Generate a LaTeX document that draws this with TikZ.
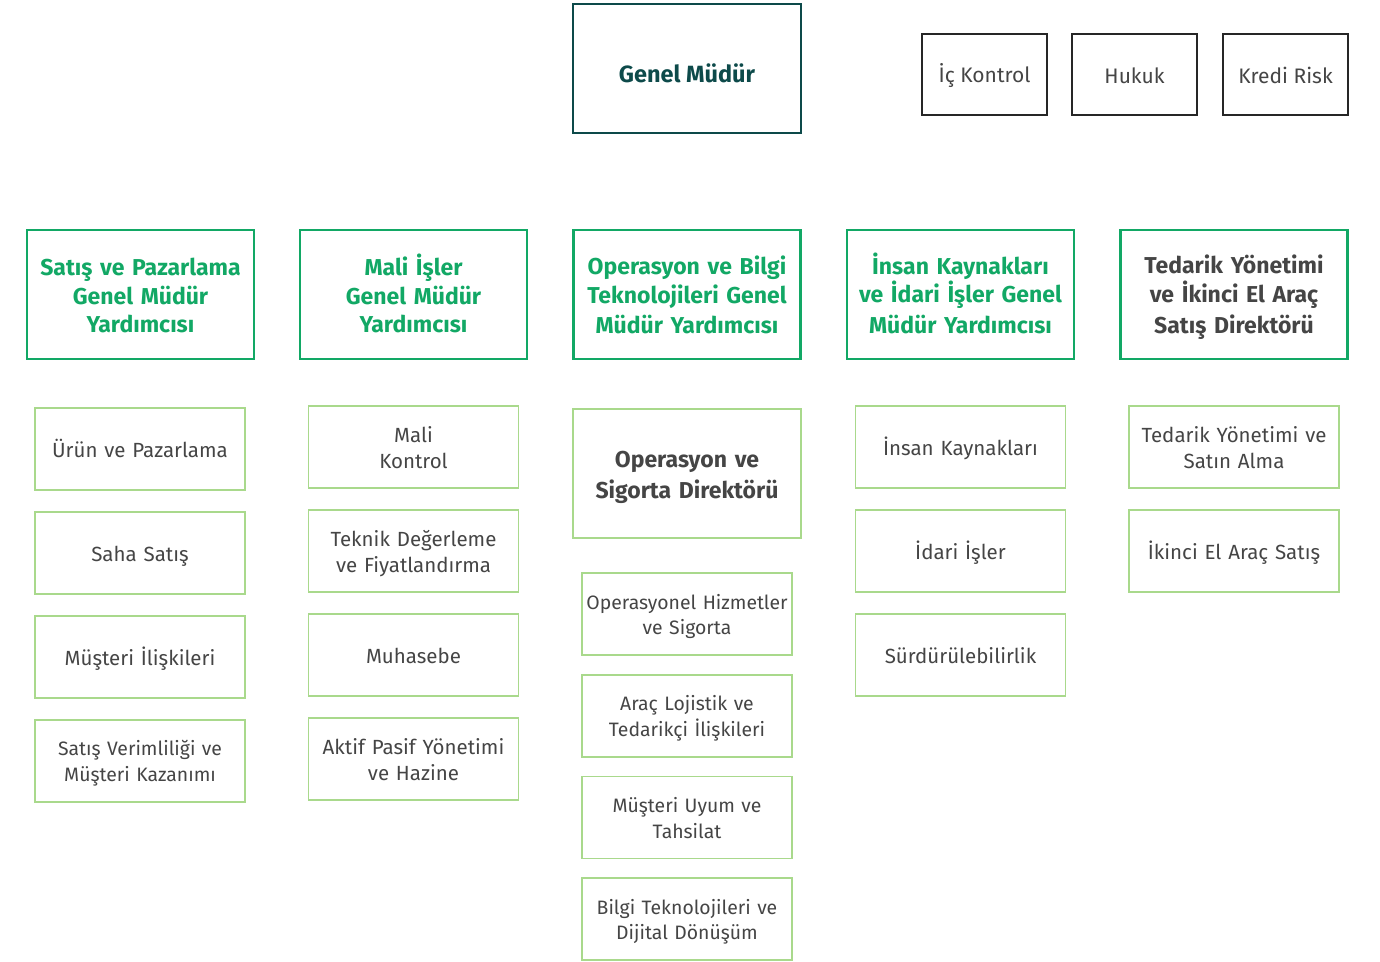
\documentclass[tikz,border=0pt]{standalone}
\usepackage{fontspec}
\setmainfont{Fira Sans}
\definecolor{teal}{HTML}{0D4A4A}
\definecolor{hgreen}{HTML}{12A865}
\definecolor{lgreen}{HTML}{A9D98C}
\definecolor{tgray}{HTML}{454545}
\newcommand\hstrut{\vphantom{Üg}\rule{0pt}{1.05em}}
\begin{document}
\begin{tikzpicture}[x=1pt,y=-1pt,
  every node/.style={inner sep=0pt,outer sep=0pt,align=center,
    execute at begin node=\hstrut, execute at end node=\hstrut},
  gm/.style={draw=teal,line width=2.8pt,minimum width=228pt,minimum height=129pt,text=teal,font=\fontsize{23.5}{28}\selectfont\bfseries,text height=28pt,text depth=1pt,execute at begin node={},execute at end node={}},
  staff/.style={draw=black!85,line width=1.4pt,minimum width=125pt,minimum height=81pt,text=tgray,font=\fontsize{21}{26}\selectfont},
  head/.style={draw=hgreen,line width=2.6pt,minimum width=227pt,minimum height=129pt,text width=220pt,text=hgreen,font=\fontsize{23}{28.5}\selectfont\bfseries},
  headgray/.style={head,text=tgray},
  dir/.style={draw=lgreen,line width=2.6pt,minimum width=228pt,minimum height=129pt,text width=220pt,text=tgray,font=\fontsize{23}{28}\selectfont\bfseries},
  unit/.style={draw=lgreen,line width=1.4pt,minimum width=210pt,minimum height=82pt,text width=207pt,text=tgray,font=\fontsize{20.5}{26}\selectfont},
  unitb/.style={unit,font=\fontsize{19.4}{24.5}\selectfont}
]
\useasboundingbox (0,0) rectangle (1380,961);
\node[gm] (gm) at (687,68.5) {Genel Müdür};
\node[staff] (ic) at (984.5,74.5) {İç Kontrol};
\node[staff] (hukuk) at (1134.5,74.5) {Hukuk};
\node[staff] (kredi) at (1285.5,74.5) {Kredi Risk};

\node[head] (h1) at (140.5,294.5) {Satış ve Pazarlama\\Genel Müdür\\Yardımcısı};
\node[head] (h2) at (413.5,294.5) {Mali İşler\\Genel Müdür\\Yardımcısı};
\node[head] (h3) at (687,294.5) {Operasyon ve Bilgi\\Teknolojileri Genel\\Müdür Yardımcısı};
\node[head] (h4) at (960.5,294.5) {İnsan Kaynakları\\ve İdari İşler Genel\\Müdür Yardımcısı};
\node[headgray] (h5) at (1234,294.5) {Tedarik Yönetimi\\ve İkinci El Araç\\Satış Direktörü};

\node[unit] (a1) at (140,449) {Ürün ve Pazarlama};
\node[unit] (a2) at (140,553) {Saha Satış};
\node[unit] (a3) at (140,657) {Müşteri İlişkileri};
\node[unitb] (a4) at (140,761) {Satış Verimliliği ve\\Müşteri Kazanımı};

\node[unit] (b1) at (413.5,447) {Mali\\Kontrol};
\node[unit] (b2) at (413.5,551) {Teknik Değerleme\\ve Fiyatlandırma};
\node[unit] (b3) at (413.5,655) {Muhasebe};
\node[unit] (b4) at (413.5,759) {Aktif Pasif Yönetimi\\ve Hazine};

\node[dir] (d3) at (687,473.5) {Operasyon ve\\Sigorta Direktörü};
\node[unitb] (c1) at (687,614) {Operasyonel Hizmetler\\ve Sigorta};
\node[unitb] (c2) at (687,716) {Araç Lojistik ve\\Tedarikçi İlişkileri};
\node[unitb] (c3) at (687,817.5) {Müşteri Uyum ve\\Tahsilat};
\node[unitb] (c4) at (687,919) {Bilgi Teknolojileri ve\\Dijital Dönüşüm};

\node[unit] (e1) at (960.5,447) {İnsan Kaynakları};
\node[unit] (e2) at (960.5,551) {İdari İşler};
\node[unit] (e3) at (960.5,655) {Sürdürülebilirlik};

\node[unit] (f1) at (1234,447) {Tedarik Yönetimi ve\\Satın Alma};
\node[unit] (f2) at (1234,551) {İkinci El Araç Satış};
\end{tikzpicture}
\end{document}
